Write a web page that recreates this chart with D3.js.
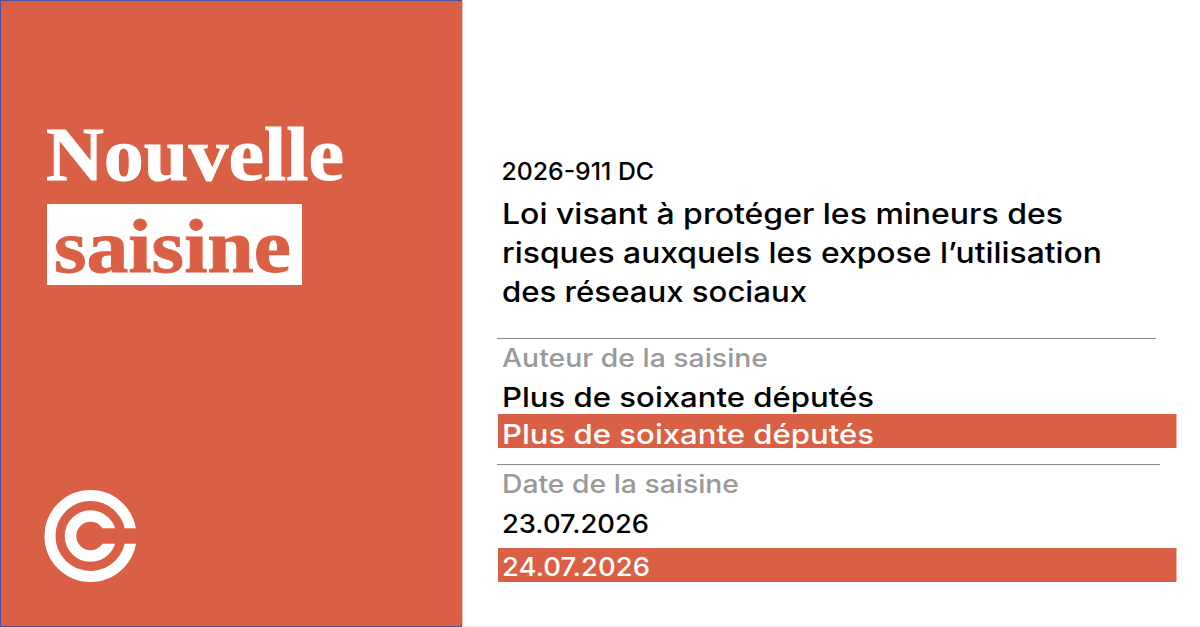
<!DOCTYPE html>
<html>
<head>
<meta charset="utf-8">
<script src="https://cdn.jsdelivr.net/npm/d3@7"></script>
<style>
html, body { margin: 0; padding: 0; background: #fff; }
svg { display: block; }
</style>
</head>
<body>
<svg id="card" width="1200" height="627"></svg>
<script>
var titleWords = ["Nouvelle", "saisine"];
var refLabel = "2026-911 DC";
var lawLines = ["Loi visant à protéger les mineurs des", "risques auxquels les expose l’utilisation", "des réseaux sociaux"];
var lawWidths = [561, 600, 305];
var authorHead = "Auteur de la saisine";
var authorRows = ["Plus de soixante députés", "Plus de soixante députés"];
var dateHead = "Date de la saisine";
var dateRows = ["23.07.2026", "24.07.2026"];

var orange = "#da6045";
var edge = "#4f4f9e";
var sans = "Inter, Roboto, sans-serif";
var serif = "'Liberation Serif', serif";

var svg = d3.select("#card");

svg.append("rect").attr("x", 0).attr("y", 0).attr("width", 462.4).attr("height", 627).attr("fill", orange);
// thin blue edge round the panel
svg.append("rect").attr("x", 0).attr("y", 0).attr("width", 1).attr("height", 627).attr("fill", edge);
svg.append("rect").attr("x", 0).attr("y", 0).attr("width", 462).attr("height", 1).attr("fill", edge);
svg.append("rect").attr("x", 0).attr("y", 626).attr("width", 462).attr("height", 1).attr("fill", edge);
svg.append("rect").attr("x", 462).attr("y", 626).attr("width", 738).attr("height", 1).attr("fill", "#eeeeee");

function title(x, y, w, color, s) {
    svg.append("text").attr("x", x).attr("y", y).attr("font-family", serif).attr("font-weight", 700)
        .attr("font-size", 76).attr("fill", color).attr("stroke", color).attr("stroke-width", 0.9)
        .attr("textLength", w).attr("lengthAdjust", "spacingAndGlyphs").text(s);
}
title(46, 180, 298, "#fff", titleWords[0]);
svg.append("rect").attr("x", 47).attr("y", 204).attr("width", 255).attr("height", 81).attr("fill", "#fff");
title(54, 272, 237, orange, titleWords[1]);

// logo, two rings cut open by a band on the right
var logo = svg.append("g").attr("transform", "translate(90.5,536)");
logo.append("circle").attr("r", 40.5).attr("fill", "none").attr("stroke", "#fff").attr("stroke-width", 11);
logo.append("circle").attr("r", 20).attr("fill", "none").attr("stroke", "#fff").attr("stroke-width", 11.5);
logo.append("rect").attr("x", 0).attr("y", -7.7).attr("width", 50).attr("height", 15.4).attr("fill", orange);

function txt(x, y, size, color, w, s) {
    return svg.append("text").attr("x", x).attr("y", y).attr("font-family", sans)
        .attr("font-weight", 500).attr("font-size", size).attr("fill", color)
        .attr("textLength", w).attr("lengthAdjust", "spacingAndGlyphs").text(s);
}

txt(501.5, 180, 24.5, "#000", 152.5, refLabel);
lawLines.forEach(function (l, i) { txt(502, 224 + i * 39, 28.5, "#000", lawWidths[i], l); });

svg.append("rect").attr("x", 497).attr("y", 338).attr("width", 659).attr("height", 1).attr("fill", "#8a8a8a");
txt(502, 367, 25.5, "#999", 266, authorHead);
txt(502, 407, 27.5, "#000", 372, authorRows[0]);
svg.append("rect").attr("x", 498).attr("y", 414).attr("width", 678.5).attr("height", 34).attr("fill", orange);
txt(502, 444, 27.5, "#fff", 372, authorRows[1]);

svg.append("rect").attr("x", 497).attr("y", 464).attr("width", 663).attr("height", 1).attr("fill", "#8a8a8a");
txt(502, 493, 25.5, "#999", 237, dateHead);
txt(502, 533, 25, "#000", 147, dateRows[0]);
svg.append("rect").attr("x", 498).attr("y", 548).attr("width", 678.5).attr("height", 34).attr("fill", orange);
txt(502, 576, 25, "#fff", 148, dateRows[1]);
</script>
</body>
</html>
